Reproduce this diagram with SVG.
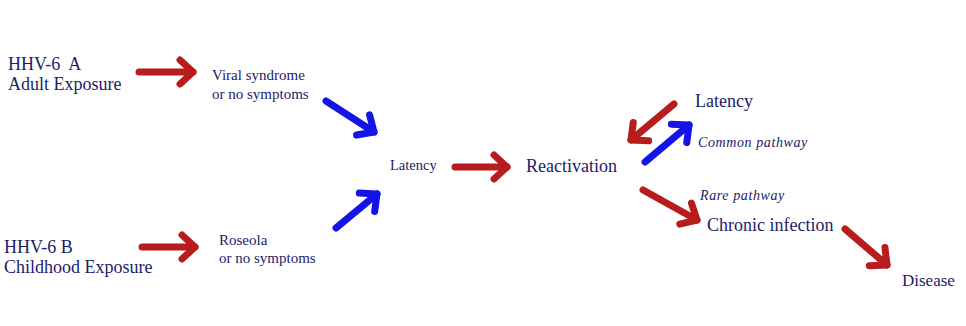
<svg xmlns="http://www.w3.org/2000/svg" width="966" height="326" viewBox="0 0 966 326">
<style>
text{font-family:"Liberation Serif","Times New Roman",serif;fill:#1c1c6b}
.l{font-size:18px}.s{font-size:15px}.i{font-size:14px;font-style:italic;letter-spacing:0.6px}
.r{stroke:#b81c1c;stroke-width:7;fill:none;stroke-linecap:round;marker-end:url(#mr)}
.b{stroke:#1414e6;stroke-width:7;fill:none;stroke-linecap:round;marker-end:url(#mb)}
</style>
<defs>
<marker id="mr" markerUnits="userSpaceOnUse" viewBox="-20 -16 26 32" refX="0" refY="0" markerWidth="26" markerHeight="32" orient="auto">
<polyline points="-13,-12 0,0 -13,12" fill="none" stroke="#b81c1c" stroke-width="7" stroke-linecap="round" stroke-linejoin="round"/>
</marker>
<marker id="mb" markerUnits="userSpaceOnUse" viewBox="-20 -16 26 32" refX="0" refY="0" markerWidth="26" markerHeight="32" orient="auto">
<polyline points="-13,-12 0,0 -13,12" fill="none" stroke="#1414e6" stroke-width="7" stroke-linecap="round" stroke-linejoin="round"/>
</marker>
</defs>
<rect width="966" height="326" fill="#fff"/>
<g id="hhv6a"><text class="l" x="8" y="70" xml:space="preserve">HHV-6  A</text><text class="l" x="8" y="90">Adult Exposure</text></g>
<g id="viral"><text class="s" x="212" y="80">Viral syndrome</text><text class="s" x="212" y="99">or no symptoms</text></g>
<g id="hhv6b"><text class="l" x="4" y="253">HHV-6 B</text><text class="l" x="4" y="273">Childhood Exposure</text></g>
<g id="roseola"><text class="s" x="219" y="245">Roseola</text><text class="s" x="219" y="263">or no symptoms</text></g>
<g id="latency1"><text class="s" x="390" y="170" style="font-size:14.5px">Latency</text></g>
<g id="reactivation"><text class="l" x="526" y="172">Reactivation</text></g>
<g id="latency2"><text class="l" x="695" y="107">Latency</text></g>
<g id="common"><text class="i" x="698" y="147">Common pathway</text></g>
<g id="rare"><text class="i" x="700" y="200">Rare pathway</text></g>
<g id="chronic"><text class="l" x="707" y="231">Chronic infection</text></g>
<g id="disease"><text class="l" x="902" y="286" style="font-size:17px">Disease</text></g>
<g id="connectors">
<path class="r" d="M139,72 H193"/>
<path class="r" d="M142,247 H195"/>
<path class="b" d="M326,101 L374,132"/>
<path class="b" d="M336,228 L377,194"/>
<path class="r" d="M455,167 H507"/>
<path class="r" d="M674,104 L631,140"/>
<path class="b" d="M645,162 L689,125"/>
<path class="r" d="M643,190 L697,220"/>
<path class="r" d="M845,229 L887,265"/>
</g>
</svg>
